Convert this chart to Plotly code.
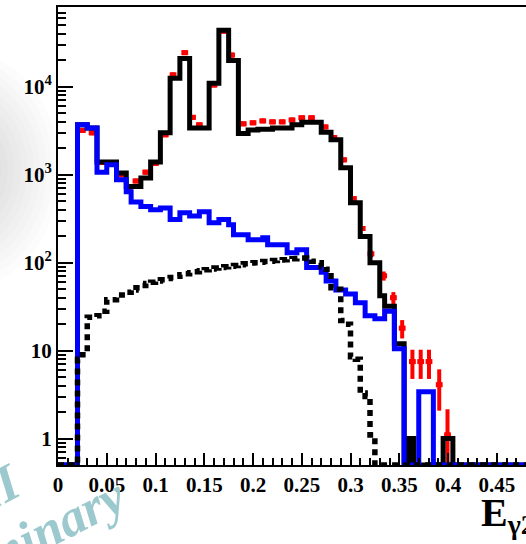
import numpy as np
import plotly.graph_objects as go

# ---------------- data ----------------
bin_width = 0.005
edges = np.round(np.arange(0, 0.5 + 1e-9, bin_width), 4)   # 100 bins, 0 .. 0.5

# total MC (black solid)
mc_total = [0, 0, 0, 0, 3700, 3700, 3400, 3400, 1400, 1400,
            1400, 1400, 1050, 1050, 735, 735, 735, 920, 920, 1400,
            1400, 3000, 3000, 12500, 12500, 21000, 21000, 3400, 3400, 3400,
            3400, 11000, 11000, 44000, 44000, 20000, 20000, 2950, 2950, 3230,
            3230, 3300, 3300, 3300, 3400, 3400, 3400, 3400, 3700, 3700,
            3950, 3950, 3950, 3950, 3050, 3050, 2500, 2500, 1200, 1200,
            480, 480, 198, 198, 100, 100, 42, 32, 32, 12,
            12, 0, 1, 0, 0, 0, 0, 0, 0, 1,
            1, 0, 0, 0, 0, 0, 0, 0, 0, 0,
            0, 0, 0, 0, 0, 0, 0, 0, 0, 0]

# background component (blue)
mc_bkg = [0, 0, 0, 0, 3700, 3700, 3400, 3400, 1070, 1070,
          1300, 1300, 880, 880, 640, 490, 490, 435, 435, 400,
          400, 420, 420, 310, 310, 370, 370, 340, 340, 380,
          380, 285, 285, 310, 310, 270, 208, 208, 208, 183,
          183, 183, 192, 160, 160, 160, 160, 130, 130, 140,
          140, 88, 88, 88, 78, 62, 62, 49, 49, 44,
          44, 35, 35, 25, 25, 23, 23, 28, 28, 10.5,
          10.5, 0, 0, 0, 3.4, 3.4, 3.4, 0, 0, 0,
          0, 0, 0, 0, 0, 0, 0, 0, 0, 0,
          0, 0, 0, 0, 0, 0, 0, 0, 0, 0]

# signal component (black dotted)
mc_sig = [0, 0, 0, 0, 8, 9, 24, 24, 25, 28,
          38, 38, 43, 43, 46, 49, 52, 55, 58, 60,
          62, 64, 66, 68, 70, 73, 75, 77, 79, 81,
          83, 85, 87, 88, 90, 91, 93, 95, 97, 99,
          100, 101, 103, 104, 106, 107, 108, 110, 111, 112,
          113, 112, 104, 100, 90, 84, 52, 50, 22, 20,
          8.5, 8, 3.3, 3.0, 1.1, 0, 0, 0, 0, 0,
          0, 0, 0, 0, 0, 0, 0, 0, 0, 0,
          0, 0, 0, 0, 0, 0, 0, 0, 0, 0,
          0, 0, 0, 0, 0, 0, 0, 0, 0, 0]

# data points (red)
data_x = [0.025, 0.035, 0.045, 0.055, 0.065, 0.073, 0.080, 0.090, 0.100, 0.110,
          0.118, 0.130, 0.138, 0.145, 0.160, 0.170, 0.178, 0.190, 0.200, 0.210,
          0.220, 0.230, 0.240, 0.250, 0.260, 0.274, 0.283, 0.293, 0.303, 0.312,
          0.321, 0.334, 0.344, 0.353, 0.3635, 0.372, 0.3805, 0.391, 0.3995]
data_y = [3200, 3000, 1380, 1380, 1000, 720, 850, 1070, 1350, 2850,
          13700, 24500, 4500, 3700, 10500, 43000, 23000, 3800, 3900, 4100,
          4000, 4000, 4200, 4450, 4450, 3500, 2650, 1480, 535, 245,
          126, 71, 40, 18, 7.5, 7.5, 7.5, 4.1, 1.1]

x_tick_vals = [0, 0.05, 0.1, 0.15, 0.2, 0.25, 0.3, 0.35, 0.4, 0.45]
x_tick_text = ["0", "0.05", "0.1", "0.15", "0.2", "0.25", "0.3", "0.35", "0.4", "0.45"]
y_tick_vals = [1, 10, 100, 1000, 10000]
y_tick_text = ["1", "10", "10<sup>2</sup>", "10<sup>3</sup>", "10<sup>4</sup>"]

# ---------------- layout constants ----------------
W, H = 526, 544
ML, MR, MT, MB = 58, 0, 7, 79
Y_MIN, Y_MAX = 0.5, 81000
X_MAX = 0.48
SERIF = "Liberation Serif, Times New Roman, serif"


def step_xy(values):
    v = np.array(values, dtype=float)
    v = np.where(v > 0, v, Y_MIN)          # empty bins sit on the frame, as in ROOT
    xs = np.append(edges[:-1], edges[-1])
    ys = np.append(v, v[-1])
    return xs, ys


fig = go.Figure()

# red data with error bars
dy = np.sqrt(np.array(data_y))
fig.add_trace(go.Scatter(
    x=data_x, y=data_y, mode="markers",
    marker=dict(symbol="square", size=5, color="#ff0000"),
    error_x=dict(type="constant", value=0.0035, thickness=5, width=0, color="#ff0000"),
    error_y=dict(type="data", array=dy, thickness=4, width=0, color="#ff0000"),
    showlegend=False, hoverinfo="skip"))

xs, ys = step_xy(mc_total)
fig.add_trace(go.Scatter(x=xs, y=ys, mode="lines", line=dict(shape="hv", color="black", width=5),
                         showlegend=False, hoverinfo="skip"))
xs, ys = step_xy(mc_bkg)
fig.add_trace(go.Scatter(x=xs, y=ys, mode="lines", line=dict(shape="hv", color="#0000ff", width=5),
                         showlegend=False, hoverinfo="skip"))
xs, ys = step_xy(mc_sig)
fig.add_trace(go.Scatter(x=xs, y=ys, mode="lines",
                         line=dict(shape="hv", color="black", width=5.5, dash="6px,5px"),
                         showlegend=False, hoverinfo="skip"))

pw = W - ML - MR
ph = H - MT - MB


def px2paper(px, py):
    return (px - ML) / pw, (H - MB - py) / ph


# soft gray glow on the left (slide background)
shapes = []
for i in range(14):
    r = 100 - i * 6.5
    cx, cy = -40, 170
    x0, y0 = px2paper(cx - r, cy + r * 1.2)
    x1, y1 = px2paper(cx + r, cy - r * 1.2)
    shapes.append(dict(type="circle", xref="paper", yref="paper", x0=x0, y0=y0, x1=x1, y1=y1,
                       fillcolor="black", opacity=0.011, line=dict(width=0), layer="below"))

annotations = []
ex, ey = px2paper(479, 488)
annotations.append(dict(xref="paper", yref="paper", x=ex, y=ey, xanchor="left", yanchor="top",
                        text="E<sub>γ2</sub>", showarrow=False,
                        font=dict(family=SERIF, size=40, color="black", weight="bold")))
wx, wy = px2paper(6, 550)
annotations.append(dict(xref="paper", yref="paper", x=wx, y=wy, xanchor="center", yanchor="middle",
                        text="Preliminary", showarrow=False, textangle=-27,
                        font=dict(family=SERIF, size=52, color="#9cc9ce", weight="bold", style="italic")))
bx, by = px2paper(-55, 514)
annotations.append(dict(xref="paper", yref="paper", x=bx, y=by, xanchor="center", yanchor="middle",
                        text="BESIII", showarrow=False, textangle=-27,
                        font=dict(family=SERIF, size=52, color="#9cc9ce", weight="bold", style="italic")))

minor_y = []
for d in [0.1, 1, 10, 100, 1000, 10000]:
    for k in range(2, 10):
        v = k * d
        if Y_MIN < v < Y_MAX:
            minor_y.append(v)

fig.update_layout(
    width=W, height=H, autosize=False,
    margin=dict(l=ML, r=MR, t=MT, b=MB, autoexpand=False),
    paper_bgcolor="white", plot_bgcolor="white",
    shapes=shapes, annotations=annotations,
    xaxis=dict(range=[0, X_MAX], showgrid=False, zeroline=False, automargin=False,
               showline=True, linecolor="black", linewidth=2, mirror=True,
               ticks="inside", ticklen=12, tickwidth=1.5, tickcolor="black",
               tickmode="array", tickvals=x_tick_vals, ticktext=x_tick_text,
               minor=dict(dtick=0.01, tick0=0, ticks="inside", ticklen=7, tickwidth=1.5,
                          tickcolor="black", showgrid=False),
               tickfont=dict(family=SERIF, size=21, color="black", weight="bold")),
    yaxis=dict(type="log", range=[np.log10(Y_MIN), np.log10(Y_MAX)], showgrid=False, zeroline=False,
               automargin=False,
               showline=True, linecolor="black", linewidth=2,
               ticks="inside", ticklen=15, tickwidth=1.5, tickcolor="black",
               tickmode="array", tickvals=y_tick_vals, ticktext=y_tick_text,
               minor=dict(tickmode="array", tickvals=minor_y, ticks="inside", ticklen=8,
                          tickwidth=1.5, tickcolor="black", showgrid=False),
               tickfont=dict(family=SERIF, size=21, color="black", weight="bold")),
)

fig.write_html("out.html", config={"displayModeBar": False},
               post_script="document.body.style.margin='0';document.body.style.padding='0';")
